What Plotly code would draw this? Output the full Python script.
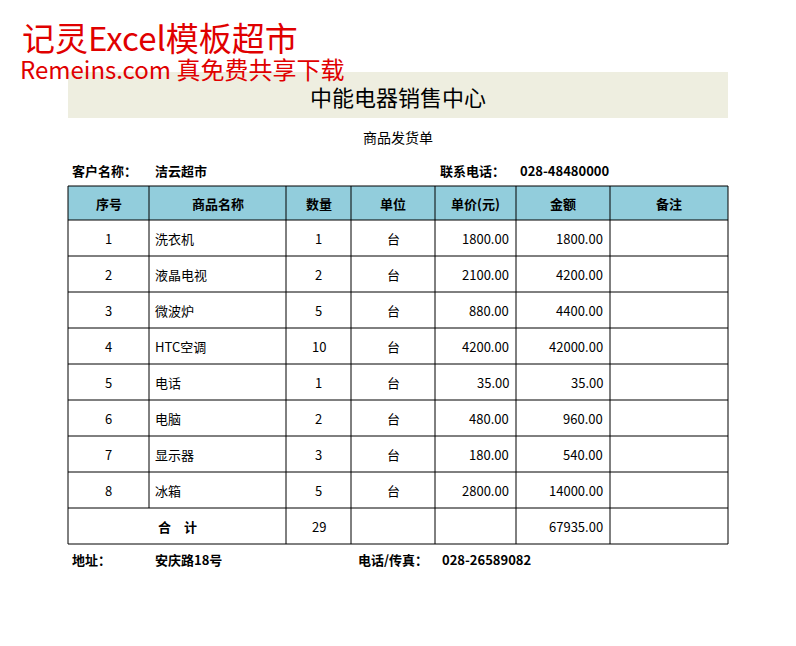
import plotly.graph_objects as go

headers = ["序号", "商品名称", "数量", "单位", "单价(元)", "金额", "备注"]
seq = ["1", "2", "3", "4", "5", "6", "7", "8"]
names = ["洗衣机", "液晶电视", "微波炉", "HTC空调", "电话", "电脑", "显示器", "冰箱"]
qty = [1, 2, 5, 10, 1, 2, 3, 5]
units = ["台"] * 8
price = [1800.00, 2100.00, 880.00, 4200.00, 35.00, 480.00, 180.00, 2800.00]
amount = [1800.00, 4200.00, 4400.00, 42000.00, 35.00, 960.00, 540.00, 14000.00]
total_qty = 29
total_amt = 67935.00

col_x = [68, 149, 286, 351, 435, 516, 610, 728]
top, head_h, row_h = 186, 34, 36
FONT = "Noto Sans CJK SC"

fig = go.Figure()
shapes, ann = [], []

def text(x, y, s, size=13, anchor="center", color="black", bold=False):
    ann.append(dict(x=x, y=y, text=f"<b>{s}</b>" if bold else s, showarrow=False,
                    xanchor=anchor, yanchor="middle",
                    font=dict(family=FONT, size=size, color=color)))

# watermark
text(20, 37, "记灵Excel模板超市", size=33, anchor="left", color="#E00000")
text(18, 68, "Remeins.com 真免费共享下载", size=24, anchor="left", color="#E00000")

# title band
shapes.append(dict(type="rect", x0=68, x1=728, y0=72, y1=118, fillcolor="#EEEEE0", line=dict(width=0), layer="below"))
text(398, 96, "中能电器销售中心", size=22)
text(398, 137, "商品发货单", size=14)
text(70, 170, "客户名称：", size=13, anchor="left", bold=True)
text(153, 170, "洁云超市", size=13, anchor="left", bold=True)
text(438, 170, "联系电话：", size=13, anchor="left", bold=True)
text(518, 170, "028-48480000", size=13, anchor="left", bold=True)

# header
shapes.append(dict(type="rect", x0=col_x[0], x1=col_x[-1], y0=top, y1=top + head_h,
                   fillcolor="#92CDDC", line=dict(width=0), layer="below"))
for i, h in enumerate(headers):
    text((col_x[i] + col_x[i + 1]) / 2, top + head_h / 2, h, size=13, bold=True)

n = len(names)
bottom = top + head_h + row_h * (n + 1)
for i in range(n):
    yc = top + head_h + row_h * i + row_h / 2
    text((col_x[0] + col_x[1]) / 2, yc, seq[i])
    text(col_x[1] + 4, yc, names[i], anchor="left")
    text((col_x[2] + col_x[3]) / 2, yc, str(qty[i]))
    text((col_x[3] + col_x[4]) / 2, yc, units[i])
    text(col_x[5] - 5, yc, f"{price[i]:.2f}", anchor="right")
    text(col_x[6] - 5, yc, f"{amount[i]:.2f}", anchor="right")
yc = top + head_h + row_h * n + row_h / 2
text((col_x[0] + col_x[2]) / 2, yc, "合　计", bold=True)
text((col_x[2] + col_x[3]) / 2, yc, str(total_qty))
text(col_x[6] - 5, yc, f"{total_amt:.2f}", anchor="right")

# grid lines
ln = dict(color="black", width=1)
for k in range(n + 3):
    y = top if k == 0 else top + head_h + row_h * (k - 1)
    shapes.append(dict(type="line", x0=col_x[0], x1=col_x[-1], y0=y, y1=y, line=ln))
for j, x in enumerate(col_x):
    if j == 1:
        shapes.append(dict(type="line", x0=x, x1=x, y0=top, y1=bottom - row_h, line=ln))
    else:
        shapes.append(dict(type="line", x0=x, x1=x, y0=top, y1=bottom, line=ln))

text(70, 559, "地址：", anchor="left", bold=True)
text(153, 559, "安庆路18号", anchor="left", bold=True)
text(356, 559, "电话/传真：", anchor="left", bold=True)
text(440, 559, "028-26589082", anchor="left", bold=True)

fig.update_layout(width=796, height=646, margin=dict(l=0, r=0, t=0, b=0),
                  plot_bgcolor="white", paper_bgcolor="white",
                  xaxis=dict(range=[8, 804], visible=False, fixedrange=True),
                  yaxis=dict(range=[654, 8], visible=False, fixedrange=True),
                  shapes=shapes, annotations=ann, showlegend=False)
fig.write_html("out.html")
